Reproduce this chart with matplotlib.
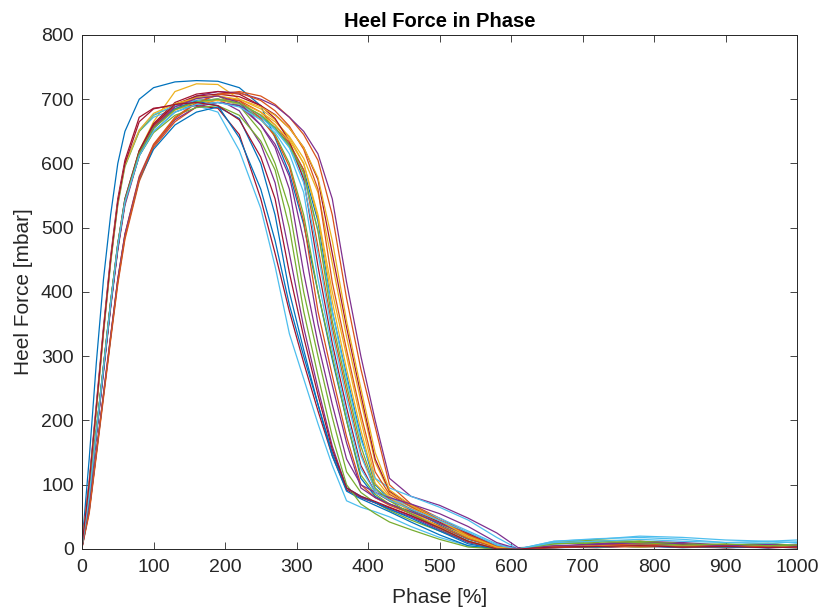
import matplotlib
matplotlib.use("Agg")
import matplotlib.pyplot as plt

# phase grid (%) shared by all trials
phase = [0, 10, 20, 30, 40, 50, 60, 80, 100, 130, 160, 190, 220, 250, 270, 290, 310, 330, 350,
         370, 390, 410, 430, 460, 500, 540, 580, 610, 660, 720, 780, 840, 900, 960, 1000]

# heel force per trial [mbar]
trial_01 = [8, 140, 290, 420, 520, 600, 650, 700, 718, 727, 729, 728, 718, 690, 640, 585, 505, 400, 295,
            200, 110, 82, 70, 55, 35, 15, 3, 0, 5, 3, 6, 4, 2, 3, 2]
trial_02 = [3, 60, 150, 240, 330, 420, 490, 580, 630, 672, 695, 708, 712, 705, 692, 672, 645, 605, 520,
            390, 280, 190, 100, 70, 48, 25, 5, 0, 2, 4, 3, 6, 2, 4, 3]
trial_03 = [5, 80, 180, 280, 380, 470, 540, 620, 665, 712, 724, 723, 700, 685, 668, 640, 600, 520, 400,
            300, 200, 110, 82, 62, 40, 18, 2, 0, 6, 4, 8, 5, 3, 5, 4]
trial_04 = [4, 75, 175, 275, 375, 465, 535, 612, 655, 690, 705, 712, 710, 700, 690, 672, 650, 615, 545,
            415, 300, 200, 110, 82, 68, 48, 25, 2, 4, 8, 12, 10, 6, 8, 5]
trial_05 = [5, 85, 185, 285, 385, 475, 545, 620, 660, 690, 703, 705, 690, 650, 600, 530, 400, 300, 205,
            120, 88, 72, 60, 45, 28, 12, 0, 0, 10, 8, 12, 8, 5, 6, 4]
trial_06 = [5, 100, 220, 340, 450, 540, 600, 650, 672, 685, 690, 680, 620, 530, 440, 335, 265, 195, 130,
            75, 65, 58, 50, 35, 18, 5, 0, 0, 12, 15, 20, 18, 14, 12, 14]
trial_07 = [6, 105, 225, 345, 455, 545, 605, 672, 686, 690, 690, 686, 645, 545, 460, 370, 290, 215, 145,
            92, 80, 72, 64, 52, 32, 12, 0, 0, 3, 2, 5, 3, 2, 4, 3]
trial_08 = [5, 82, 182, 282, 382, 472, 540, 612, 650, 680, 692, 695, 690, 672, 655, 630, 590, 510, 370,
            270, 175, 100, 78, 60, 38, 18, 3, 0, 4, 6, 3, 5, 4, 2, 5]
trial_09 = [2, 55, 145, 235, 325, 412, 482, 572, 625, 665, 688, 700, 698, 680, 660, 632, 590, 470, 345,
            245, 150, 92, 78, 62, 42, 20, 4, 0, 3, 5, 7, 4, 6, 3, 4]
trial_10 = [5, 78, 178, 278, 378, 468, 538, 615, 655, 685, 698, 700, 695, 680, 665, 642, 608, 555, 445,
            330, 230, 135, 88, 65, 40, 18, 2, 0, 5, 3, 6, 8, 4, 3, 5]
trial_11 = [4, 78, 178, 278, 378, 468, 540, 615, 655, 685, 698, 700, 682, 630, 570, 460, 345, 250, 160,
            95, 80, 72, 62, 50, 30, 10, 0, 0, 2, 6, 4, 3, 5, 2, 3]
trial_12 = [5, 98, 215, 335, 445, 535, 595, 650, 675, 690, 698, 700, 692, 668, 645, 600, 520, 400, 300,
            200, 115, 85, 70, 58, 40, 22, 6, 0, 8, 10, 6, 8, 4, 6, 5]
trial_13 = [5, 85, 185, 285, 385, 475, 545, 618, 655, 685, 697, 700, 692, 672, 652, 625, 580, 495, 370,
            265, 170, 110, 95, 82, 65, 45, 18, 0, 6, 4, 8, 5, 6, 4, 8]
trial_14 = [5, 85, 185, 285, 385, 475, 545, 620, 662, 695, 708, 712, 708, 690, 670, 635, 575, 440, 320,
            220, 130, 88, 75, 62, 42, 22, 4, 0, 3, 5, 4, 6, 3, 5, 2]
trial_15 = [3, 60, 150, 240, 330, 418, 488, 575, 622, 660, 680, 688, 670, 600, 520, 400, 310, 225, 145,
            90, 78, 68, 58, 42, 22, 5, 0, 0, 2, 3, 5, 2, 4, 3, 2]
trial_16 = [4, 80, 180, 280, 380, 470, 540, 615, 658, 690, 702, 705, 698, 670, 642, 595, 510, 370, 270,
            175, 100, 80, 68, 55, 36, 16, 2, 0, 4, 6, 8, 5, 7, 4, 6]
trial_17 = [5, 82, 182, 282, 382, 472, 540, 615, 655, 683, 695, 698, 693, 676, 660, 636, 600, 515, 385,
            280, 185, 102, 80, 58, 34, 12, 0, 0, 5, 3, 6, 4, 3, 5, 4]
trial_18 = [3, 62, 152, 242, 332, 420, 490, 578, 628, 668, 688, 695, 690, 660, 630, 580, 480, 350, 255,
            165, 95, 80, 70, 58, 40, 22, 5, 0, 3, 8, 10, 7, 4, 6, 3]
trial_19 = [5, 82, 182, 282, 382, 472, 540, 612, 648, 675, 687, 690, 675, 635, 590, 500, 370, 270, 175,
            100, 70, 55, 42, 30, 15, 3, 0, 0, 10, 14, 12, 8, 6, 9, 5]
trial_20 = [6, 100, 218, 338, 448, 538, 598, 652, 676, 690, 698, 700, 694, 675, 655, 625, 570, 460, 335,
            235, 145, 92, 80, 66, 48, 28, 8, 0, 12, 16, 18, 15, 10, 12, 10]
trial_21 = [5, 80, 180, 280, 380, 470, 540, 618, 660, 692, 705, 708, 704, 690, 676, 655, 625, 575, 460,
            345, 240, 140, 90, 68, 45, 24, 5, 0, 3, 5, 4, 7, 5, 3, 6]
trial_22 = [5, 80, 180, 280, 380, 470, 540, 615, 655, 685, 697, 690, 640, 560, 480, 380, 300, 225, 150,
            95, 82, 72, 62, 48, 28, 8, 0, 0, 4, 3, 6, 4, 3, 2, 4]
trial_23 = [3, 58, 148, 238, 328, 415, 485, 575, 628, 670, 694, 707, 710, 698, 682, 658, 622, 560, 415,
            310, 210, 120, 85, 66, 44, 22, 4, 0, 2, 4, 6, 3, 5, 3, 2]
trial_24 = [6, 100, 218, 338, 448, 538, 598, 652, 678, 693, 702, 705, 700, 688, 675, 655, 625, 578, 480,
            355, 250, 150, 92, 68, 44, 20, 3, 0, 4, 6, 3, 5, 4, 6, 3]
trial_25 = [4, 78, 178, 278, 378, 468, 538, 614, 656, 688, 701, 705, 695, 660, 625, 560, 430, 320, 225,
            140, 100, 88, 80, 70, 55, 35, 10, 0, 5, 7, 10, 8, 5, 7, 4]
trial_26 = [5, 84, 184, 284, 384, 474, 542, 616, 655, 684, 696, 700, 694, 675, 656, 628, 585, 495, 355,
            255, 160, 95, 75, 55, 32, 12, 0, 0, 8, 12, 10, 6, 8, 5, 6]
trial_27 = [5, 82, 182, 282, 382, 472, 540, 612, 650, 680, 692, 695, 688, 668, 648, 615, 555, 420, 310,
            210, 125, 88, 76, 62, 44, 26, 6, 0, 10, 12, 15, 12, 10, 9, 11]
trial_28 = [6, 102, 220, 340, 450, 540, 600, 665, 685, 692, 695, 690, 668, 610, 545, 430, 330, 240, 155,
            95, 82, 74, 65, 52, 33, 12, 0, 0, 3, 4, 5, 3, 4, 2, 3]

trials = [trial_01, trial_02, trial_03, trial_04, trial_05, trial_06, trial_07,
          trial_08, trial_09, trial_10, trial_11, trial_12, trial_13, trial_14,
          trial_15, trial_16, trial_17, trial_18, trial_19, trial_20, trial_21,
          trial_22, trial_23, trial_24, trial_25, trial_26, trial_27, trial_28]

# default MATLAB line colour order
matlab_colors = ['#0072BD', '#D95319', '#EDB120', '#7E2F8E', '#77AC30', '#4DBEEE', '#A2142F']

plt.rcParams['font.family'] = ['Liberation Sans', 'DejaVu Sans']
axis_grey = '#262626'

fig = plt.figure(figsize=(8.22, 6.14), dpi=100, facecolor='w')
ax = fig.add_axes([0.0998, 0.1059, 0.8698, 0.8371])

for i, t in enumerate(trials):
    ax.plot(phase, t, color=matlab_colors[i % len(matlab_colors)], linewidth=0.9)

ax.set_xlim(0, 1000)
ax.set_ylim(0, 800)
ax.set_xticks(range(0, 1001, 100))
ax.set_yticks(range(0, 801, 100))
ax.tick_params(direction='in', length=5, width=0.6, colors=axis_grey, labelsize=14,
               top=True, right=True, labeltop=False, labelright=False)
ax.tick_params(axis='x', pad=7)
ax.tick_params(axis='y', pad=6)
for s in ax.spines.values():
    s.set_color(axis_grey)
    s.set_linewidth(0.7)

ax.set_xlabel('Phase [%]', fontsize=15, color=axis_grey, labelpad=9)
ax.set_ylabel('Heel Force [mbar]', fontsize=15, color=axis_grey, labelpad=6)
ax.set_title('Heel Force in Phase', fontsize=14.5, fontweight='bold', color='black', pad=6)

fig.savefig('out.png', dpi=100)
